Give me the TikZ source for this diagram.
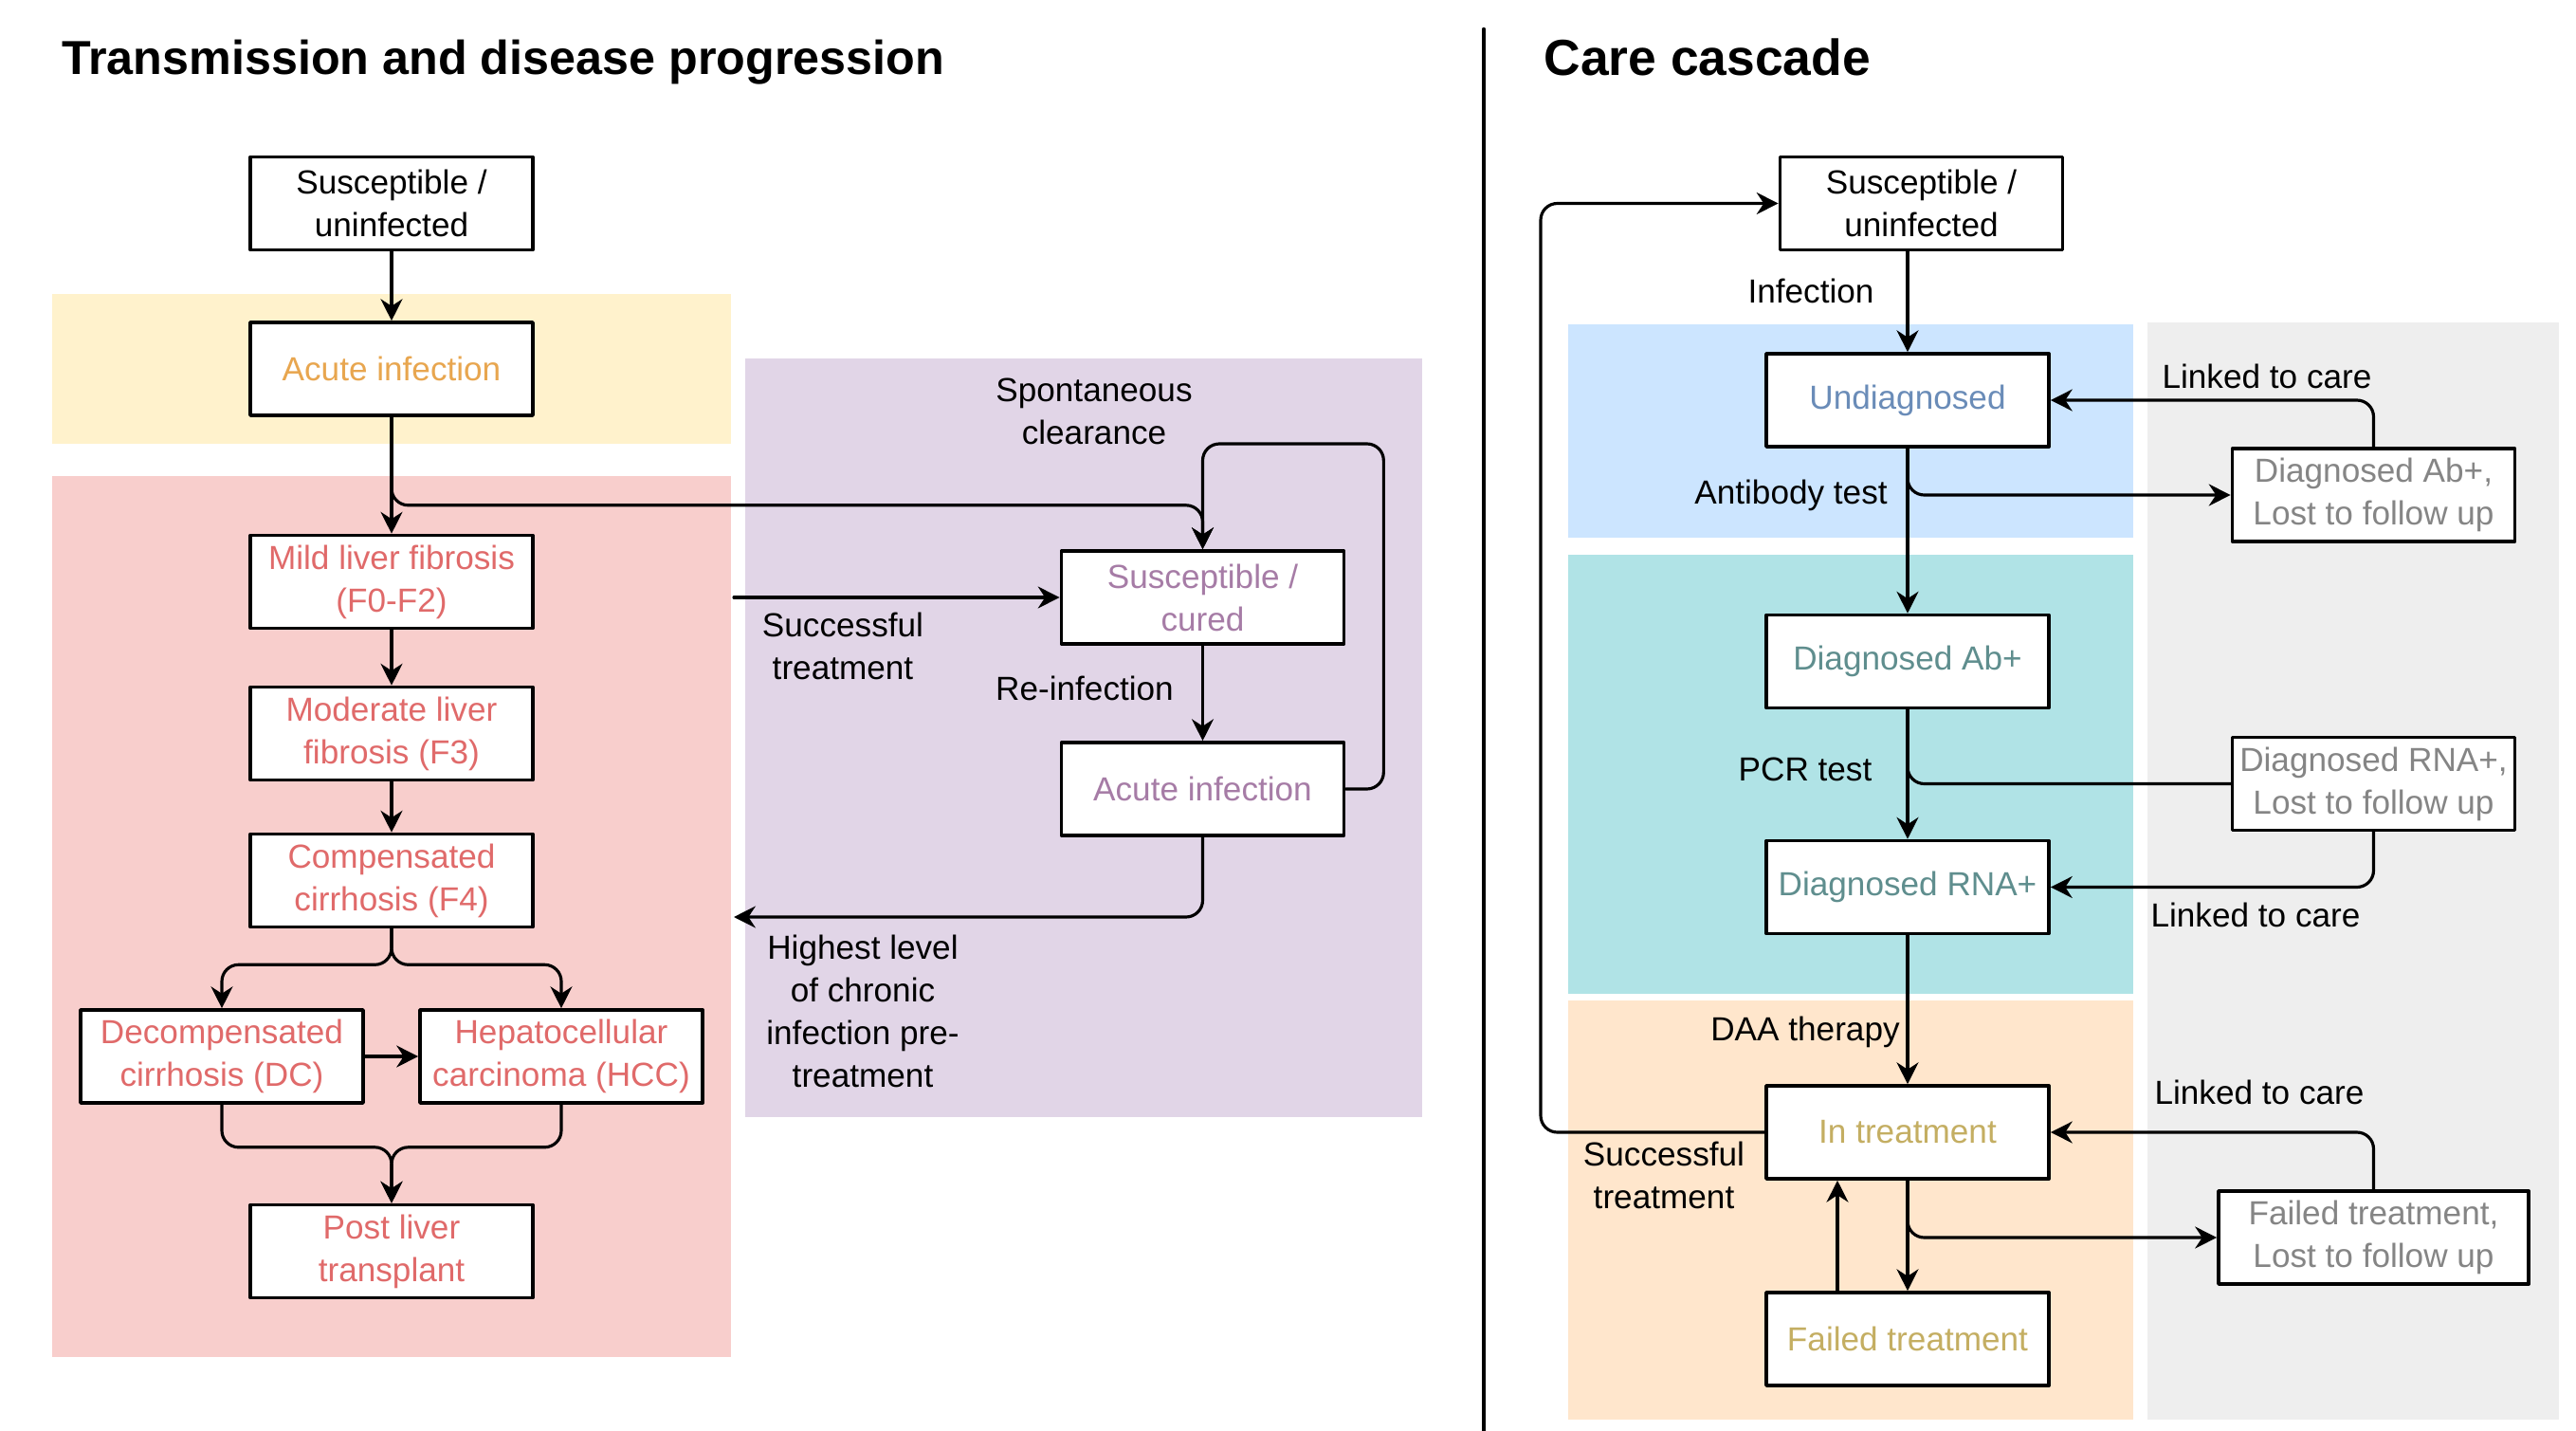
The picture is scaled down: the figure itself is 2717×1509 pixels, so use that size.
\documentclass[tikz,border=0pt]{standalone}
\usepackage{fontspec}
\setmainfont{Liberation Sans}
\usetikzlibrary{arrows.meta}

\definecolor{bandyellow}{HTML}{FFF2CC}
\definecolor{bandpink}{HTML}{F8CECC}
\definecolor{bandpurple}{HTML}{E1D5E7}
\definecolor{bandblue}{HTML}{CCE5FF}
\definecolor{bandteal}{HTML}{B0E3E6}
\definecolor{bandpeach}{HTML}{FFE6CC}
\definecolor{bandgrey}{HTML}{EEEEEE}
\definecolor{txtorange}{HTML}{E8A64F}
\definecolor{txtpink}{HTML}{E06A6A}
\definecolor{txtpurple}{HTML}{A67CA6}
\definecolor{txtblue}{HTML}{6A8CB8}
\definecolor{txtteal}{HTML}{5F8E8E}
\definecolor{txtkhaki}{HTML}{C4AE62}
\definecolor{txtgrey}{HTML}{858585}

\begin{document}
\begin{tikzpicture}[x=0.01cm,y=-0.01cm,line cap=round,line join=round,
  box/.style={draw=black,fill=white,line width=1pt,minimum width=2.98cm,minimum height=0.98cm,
    inner sep=0pt,align=center,font=\fontsize{10}{12.8}\selectfont},
  lbl/.style={align=center,font=\fontsize{10}{12.8}\selectfont},
  head/.style={anchor=base west,font=\fontsize{14.3}{17}\selectfont\bfseries},
  arr/.style={line width=0.9pt,-{Stealth[length=6.5pt,width=6.5pt]}},
  link/.style={line width=0.9pt,rounded corners=5pt}]
  \useasboundingbox (0,0) rectangle (2717,1509);

  % coloured bands
  \fill[bandyellow] (55,310) rectangle (771,468);
  \fill[bandpink] (55,502) rectangle (771,1431);
  \fill[bandpurple] (786,378) rectangle (1500,1178);
  \fill[bandblue] (1654,342) rectangle (2250,567);
  \fill[bandteal] (1654,585) rectangle (2250,1048);
  \fill[bandpeach] (1654,1055) rectangle (2250,1497);
  \fill[bandgrey] (2265,340) rectangle (2699,1497);

  % transmission and disease progression
  \node[head] (titleL) at (53,78) {Transmission and disease progression};
  \node[box] (sus1) at (413,214.5) {Susceptible /\\uninfected};
  \node[box,text=txtorange] (acute1) at (413,389) {Acute infection};
  \node[box,text=txtpink] (mild) at (413,613.5) {Mild liver fibrosis\\(F0-F2)};
  \node[box,text=txtpink] (moder) at (413,773.5) {Moderate liver\\fibrosis (F3)};
  \node[box,text=txtpink] (comp) at (413,928.5) {Compensated\\cirrhosis (F4)};
  \node[box,text=txtpink] (dc) at (234,1114) {Decompensated\\cirrhosis (DC)};
  \node[box,text=txtpink] (hcc) at (592,1114) {Hepatocellular\\carcinoma (HCC)};
  \node[box,text=txtpink] (post) at (413,1319.5) {Post liver\\transplant};
  \node[box,text=txtpurple] (cured) at (1268.5,630) {Susceptible /\\cured};
  \node[box,text=txtpurple] (acute2) at (1268.5,832) {Acute infection};
  \coordinate (succL) at (774,630);
  \coordinate (highL) at (774,967);

  \draw[arr] (sus1) -- (acute1);
  \draw[arr] (acute1) -- (mild);
  \draw[arr] (mild) -- (moder);
  \draw[arr] (moder) -- (comp);
  \draw[arr,link] (acute1.south) -- ++(0,93) -| (cured.north);
  \draw[arr,link] (acute2.east) -- ++(40,0) -- ++(0,-364) -| (cured.north);
  \draw[arr] (cured) -- (acute2);
  \draw[arr,link] (acute2.south) |- (highL);
  \draw[arr] (succL) -- (cured.west);
  \draw[arr,link] (comp.south) -- ++(0,38) -| (dc.north);
  \draw[arr,link] (comp.south) -- ++(0,38) -| (hcc.north);
  \draw[arr] (dc) -- (hcc);
  \draw[arr,link] (dc.south) -- ++(0,45) -| (post.north);
  \draw[arr,link] (hcc.south) -- ++(0,45) -| (post.north);

  \node[lbl] (spont) at (1154,434) {Spontaneous\\clearance};
  \node[lbl] (succ1) at (889,681) {Successful\\treatment};
  \node[lbl] (reinf) at (1144,726) {Re-infection};
  \node[lbl] (highest) at (910,1066) {Highest level\\of chronic\\infection pre-\\treatment};

  % divider
  \coordinate (divT) at (1565,31);
  \coordinate (divB) at (1565,1509);
  \draw[line width=1.3pt] (divT) -- (divB);

  % care cascade
  \node[head,font=\fontsize{15.2}{18}\selectfont\bfseries] (titleR) at (1616,80) {Care cascade};
  \node[box] (sus3) at (2026.5,214.5) {Susceptible /\\uninfected};
  \node[box,text=txtblue] (undiag) at (2012,422) {Undiagnosed};
  \node[box,text=txtteal] (abpos) at (2012,697.5) {Diagnosed Ab+};
  \node[box,text=txtteal] (rnapos) at (2012,935.5) {Diagnosed RNA+};
  \node[box,text=txtkhaki] (intreat) at (2012,1194) {In treatment};
  \node[box,text=txtkhaki] (failed) at (2012,1412) {Failed treatment};
  \node[box,text=txtgrey] (lostab) at (2503.5,522) {Diagnosed Ab+,\\Lost to follow up};
  \node[box,text=txtgrey] (lostrna) at (2503.5,826.5) {Diagnosed RNA+,\\Lost to follow up};
  \node[box,text=txtgrey,minimum width=3.27cm] (lostfail) at (2503.5,1305) {Failed treatment,\\Lost to follow up};
  \coordinate (loopL) at (1625,214.5);
  \coordinate (upx) at (1938,0);

  \draw[arr] (sus3.south -| undiag) -- (undiag);
  \draw[arr] (undiag) -- (abpos);
  \draw[arr,link] (undiag.south) |- (lostab.west);
  \draw[arr,link] (lostab.north) |- (undiag.east);
  \draw[arr] (abpos) -- (rnapos);
  \draw[link] (abpos.south) |- (lostrna.west);
  \draw[arr,link] (lostrna.south) |- (rnapos.east);
  \draw[arr] (rnapos) -- (intreat);
  \draw[arr,link] (lostfail.north) |- (intreat.east);
  \draw[arr,link] (intreat.south) |- (lostfail.west);
  \draw[arr] (intreat) -- (failed);
  \draw[arr] (failed.north -| upx) -- (intreat.south -| upx);
  \draw[arr,link] (intreat.west) -| (loopL) -- (sus3.west);

  \node[lbl] (infect) at (1910,307) {Infection};
  \node[lbl] (abtest) at (1889,522) {Antibody test};
  \node[lbl] (link1) at (2391,397) {Linked to care};
  \node[lbl] (pcr) at (1904,811) {PCR test};
  \node[lbl] (link2) at (2379,965) {Linked to care};
  \node[lbl] (daa) at (1904,1088) {DAA therapy};
  \node[lbl] (link3) at (2383,1152) {Linked to care};
  \node[lbl] (succ2) at (1755,1239) {Successful\\treatment};
\end{tikzpicture}
\end{document}
